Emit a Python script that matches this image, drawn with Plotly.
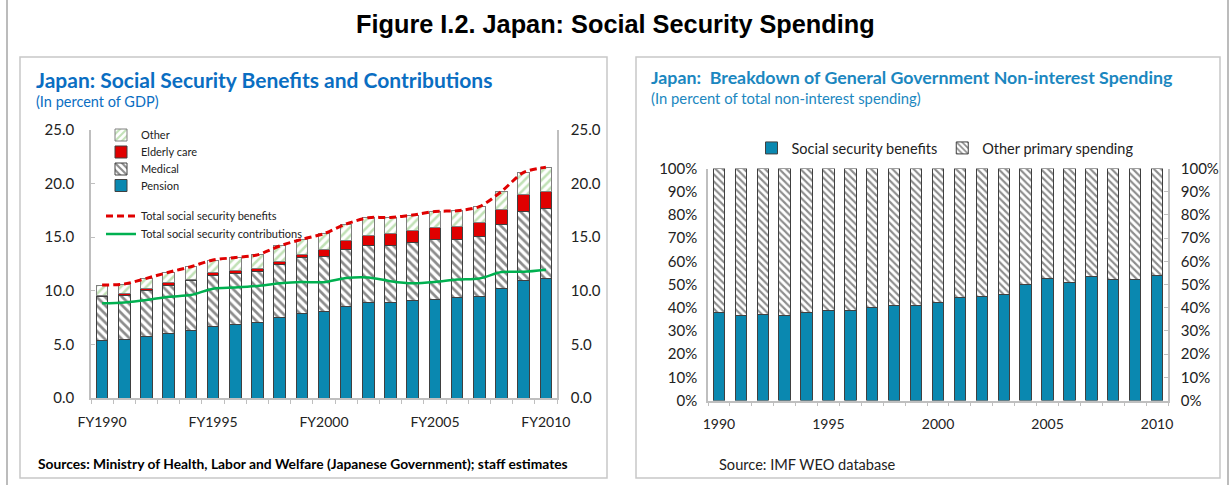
import plotly.graph_objects as go

W, H = 1230, 485

# ---------------- data ----------------
fy_years = list(range(1990, 2011))
fy_ticklabels = ["FY1990", "FY1995", "FY2000", "FY2005", "FY2010"]
pension = [5.38, 5.47, 5.75, 6.03, 6.31, 6.65, 6.84, 7.00, 7.50, 7.90, 8.10,
           8.52, 8.90, 8.90, 9.11, 9.20, 9.33, 9.48, 10.17, 10.98, 11.16]
medical = [4.07, 4.10, 4.32, 4.47, 4.64, 4.79, 4.82, 4.82, 4.96, 5.19, 5.08,
           5.32, 5.28, 5.34, 5.39, 5.57, 5.47, 5.57, 6.03, 6.42, 6.56]
elderly = [0.15, 0.16, 0.13, 0.23, 0.15, 0.25, 0.25, 0.28, 0.32, 0.31, 0.69,
           0.81, 1.01, 1.06, 1.15, 1.18, 1.24, 1.30, 1.40, 1.58, 1.58]
other = [0.94, 0.90, 0.96, 1.00, 1.15, 1.18, 1.19, 1.25, 1.40, 1.40, 1.46,
         1.58, 1.63, 1.54, 1.42, 1.45, 1.43, 1.50, 1.67, 2.07, 2.22]
contributions = [8.83, 8.92, 9.14, 9.45, 9.60, 10.20, 10.30, 10.45, 10.70, 10.82, 10.80,
                 11.20, 11.25, 10.90, 10.70, 10.82, 11.05, 11.15, 11.75, 11.78, 11.97]
total_benefits = [round(p + m + e + o, 2) for p, m, e, o in zip(pension, medical, elderly, other)]
left_yticks = [0, 5, 10, 15, 20, 25]

years = list(range(1990, 2011))
year_ticklabels = ["1990", "1995", "2000", "2005", "2010"]
ss_share = [37.8, 36.5, 37.1, 36.5, 37.8, 38.7, 38.7, 40.0, 40.9, 40.9, 42.2,
            44.2, 45.0, 45.8, 50.0, 52.6, 50.9, 53.5, 52.2, 52.2, 53.9]
other_share = [round(100 - s, 1) for s in ss_share]
right_yticks = list(range(0, 101, 10))
right_yticklabels = [f"{v}%" for v in right_yticks]

# ---------------- helpers ----------------
def px(x):
    return x / W

def py(y):
    return 1 - y / H

FONT = "Lato, 'Open Sans', sans-serif"
BLUE = "#0A88B0"
RED = "#E00000"
GREEN = "#00B050"
AXIS = "#BFBFBF"
BORDER = "#404040"

fig = go.Figure()

# ---------------- left chart ----------------
fig.add_trace(go.Bar(x=fy_years, y=pension, name="Pension",
                     marker=dict(color=BLUE, line=dict(color=BORDER, width=1)),
                     xaxis="x", yaxis="y", legend="legend4"))
fig.add_trace(go.Bar(x=fy_years, y=medical, name="Medical",
                     marker=dict(color="white", line=dict(color=BORDER, width=1),
                                 pattern=dict(shape="\\", fgcolor="#1A1A1A", bgcolor="white", size=6, solidity=0.45)),
                     xaxis="x", yaxis="y", legend="legend3"))
fig.add_trace(go.Bar(x=fy_years, y=elderly, name="Elderly care",
                     marker=dict(color=RED, line=dict(color=BORDER, width=1)),
                     xaxis="x", yaxis="y", legend="legend2"))
fig.add_trace(go.Bar(x=fy_years, y=other, name="Other",
                     marker=dict(color="white", line=dict(color="#808080", width=1),
                                 pattern=dict(shape="/", fgcolor="#84C36E", bgcolor="white", size=6, solidity=0.42)),
                     xaxis="x", yaxis="y", legend="legend"))
fig.add_trace(go.Scatter(x=fy_years, y=total_benefits, name="Total social security benefits", mode="lines",
                         line=dict(color=RED, width=3, dash="7px,4px", shape="spline", smoothing=0.8),
                         xaxis="x", yaxis="y", legend="legend5"))
fig.add_trace(go.Scatter(x=fy_years, y=contributions, name="Total social security contributions", mode="lines",
                         line=dict(color=GREEN, width=2.5, shape="spline", smoothing=0.8),
                         xaxis="x", yaxis="y", legend="legend6"))
# right-side mirror axis for the left chart
fig.add_trace(go.Scatter(x=fy_years, y=total_benefits, mode="lines", line=dict(width=0), opacity=0,
                         hoverinfo="skip", showlegend=False, xaxis="x", yaxis="y3"))

# ---------------- right chart ----------------
fig.add_trace(go.Bar(x=years, y=ss_share, name="Social security benefits",
                     marker=dict(color=BLUE, line=dict(color=BORDER, width=1)),
                     xaxis="x2", yaxis="y2", legend="legend7"))
fig.add_trace(go.Bar(x=years, y=other_share, name="Other primary spending",
                     marker=dict(color="white", line=dict(color=BORDER, width=1),
                                 pattern=dict(shape="\\", fgcolor="#1A1A1A", bgcolor="white", size=5, solidity=0.42)),
                     xaxis="x2", yaxis="y2", legend="legend7"))
fig.add_trace(go.Scatter(x=years, y=ss_share, mode="lines", line=dict(width=0), opacity=0,
                         hoverinfo="skip", showlegend=False, xaxis="x2", yaxis="y4"))

tickfont = dict(family=FONT, size=14, color="#222222")
ytickfont = dict(family=FONT, size=15, color="#222222")
minor_x = dict(ticks="outside", ticklen=4, tickcolor=AXIS, tickmode="array",
               tickvals=[y + 0.5 for y in range(1989, 2011)])

def xaxis(domain, anchor, ticktext):
    return dict(domain=domain, range=[1989.5, 2010.5], anchor=anchor,
                tickmode="array", tickvals=[1990, 1995, 2000, 2005, 2010], ticktext=ticktext,
                showgrid=False, zeroline=False, showline=True, linecolor=AXIS, linewidth=1.5,
                ticks="", tickfont=tickfont, ticklabelstandoff=10, minor=minor_x)

def yaxis(domain, rng, tickvals, ticktext, standoff, side="left", overlay=None, anchor=None, ticks=""):
    d = dict(range=rng, tickmode="array", tickvals=tickvals, ticktext=ticktext, side=side,
             showgrid=False, zeroline=False, showline=True, linecolor=AXIS, linewidth=1.5,
             ticks=ticks, ticklen=4, tickcolor=AXIS, tickfont=ytickfont, ticklabelstandoff=standoff,
             anchor=anchor)
    if overlay:
        d["overlaying"] = overlay
    else:
        d["domain"] = domain
    return d

left_ticktext = [f"{v:.1f}" for v in left_yticks]

leg_font = dict(family=FONT, size=11, color="#222222")

def leg(ycen):
    return dict(x=px(101), y=py(ycen), xanchor="left", yanchor="middle", bgcolor="rgba(0,0,0,0)",
                font=leg_font, borderwidth=0)

fig.update_layout(
    width=W, height=H, margin=dict(l=0, r=0, t=0, b=0, pad=0, autoexpand=False),
    paper_bgcolor="white", plot_bgcolor="white",
    barmode="stack", bargap=0.48,
    xaxis=xaxis([px(91), px(557)], "y", fy_ticklabels),
    yaxis=yaxis([py(398), py(130)], [0, 25], left_yticks, left_ticktext, 12, anchor="x", ticks="inside"),
    yaxis3=yaxis(None, [0, 25], left_yticks, left_ticktext, 9, side="right", overlay="y", anchor="x"),
    xaxis2=xaxis([px(708), px(1168)], "y2", year_ticklabels),
    yaxis2=yaxis([py(400.5), py(168.5)], [0, 100], right_yticks, right_yticklabels, 6, anchor="x2"),
    yaxis4=yaxis(None, [0, 100], right_yticks, right_yticklabels, 8, side="right", overlay="y2",
                 anchor="x2", ticks="inside"),
    legend=leg(135),
    legend2=leg(152),
    legend3=leg(169),
    legend4=leg(185.5),
    legend5=leg(216),
    legend6=leg(234),
    legend7=dict(x=px(945), y=py(148), xanchor="center", yanchor="middle", orientation="h",
                 bgcolor="rgba(0,0,0,0)", font=dict(family=FONT, size=14.5, color="#222222"),
                 traceorder="normal"),
)

shapes = []
# outer frame
shapes.append(dict(type="line", xref="paper", yref="paper", x0=px(7), x1=px(7), y0=0, y1=1,
                   line=dict(color="#A6A6A6", width=1.5)))
shapes.append(dict(type="line", xref="paper", yref="paper", x0=px(1228), x1=px(1228), y0=0, y1=1,
                   line=dict(color="#A6A6A6", width=1.5)))
# panel boxes
shapes.append(dict(type="rect", xref="paper", yref="paper", x0=px(20), x1=px(607), y0=py(478), y1=py(57),
                   line=dict(color="#C8C8C8", width=1.5)))
shapes.append(dict(type="rect", xref="paper", yref="paper", x0=px(636), x1=px(1220), y0=py(478), y1=py(57),
                   line=dict(color="#C8C8C8", width=1.5)))
fig.update_layout(shapes=shapes)

def note(text, x, y, size, color, family=FONT, anchor="left"):
    return dict(text=text, x=px(x), y=py(y), xref="paper", yref="paper", xanchor=anchor, yanchor="middle",
                showarrow=False, font=dict(family=family, size=size, color=color))

ann = [
    note("<b>Figure I.2. Japan: Social Security Spending</b>", 615, 24, 25.3, "black",
         family="Liberation Sans, Arial, sans-serif", anchor="center"),
    note("<b>Japan: Social Security Benefits and Contributions</b>", 34, 80, 21, "#0A6EC2"),
    note("(In percent of GDP)", 34, 101, 14.5, "#0A6EC2"),
    note("<b>Japan:  Breakdown of General Government Non-interest Spending</b>", 649, 77, 17.8, "#1B87C0"),
    note("(In percent of total non-interest spending)", 649, 98, 14.8, "#1B87C0"),
    note("<b>Sources: Ministry of Health, Labor and Welfare (Japanese Government); staff estimates</b>",
         36, 463, 13.8, "black"),
    note("Source: IMF WEO database", 717, 464, 14.6, "#222222"),
]
fig.update_layout(annotations=ann)

fig.write_html("out.html",
               config={"displayModeBar": False},
               post_script="document.body.style.margin='0';document.body.style.padding='0';"
                           "document.documentElement.style.overflow='hidden';")
